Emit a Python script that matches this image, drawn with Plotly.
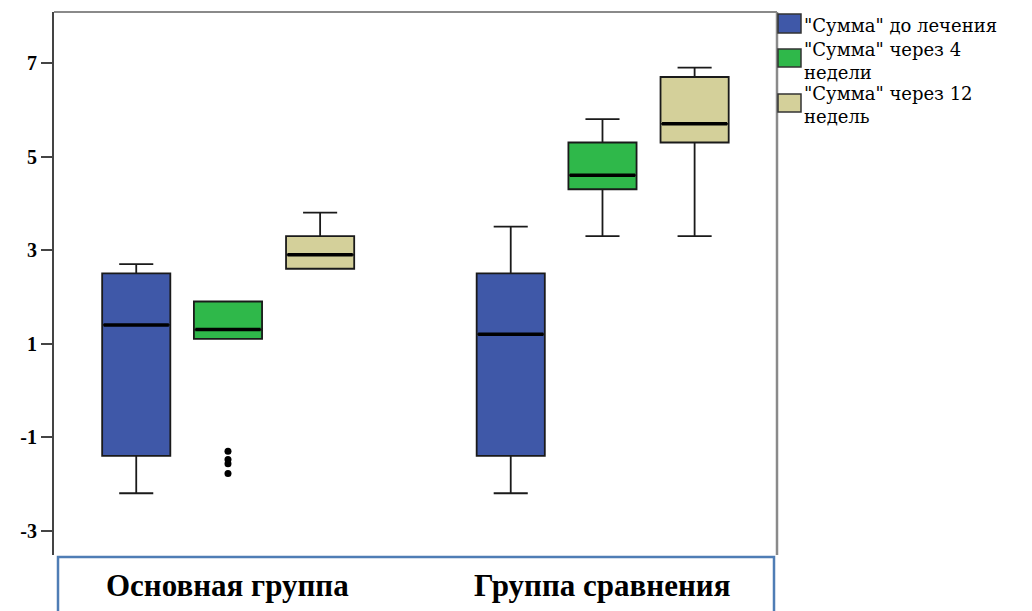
import plotly.graph_objects as go

# ---- data ----
groups = ["Основная группа", "Группа сравнения"]
series = ['"Сумма" до лечения',
          '"Сумма" через 4<br>недели',
          '"Сумма" через 12<br>недель']
colors = ["#3f58a8", "#2fb84a", "#d4d09a"]

q1 = [[-1.4, -1.4], [1.1, 4.3], [2.6, 5.3]]
median = [[1.4, 1.2], [1.3, 4.6], [2.9, 5.7]]
q3 = [[2.5, 2.5], [1.9, 5.3], [3.3, 6.7]]
lowerfence = [[-2.2, -2.2], [1.1, 3.3], [2.6, 3.3]]
upperfence = [[2.7, 3.5], [1.9, 5.8], [3.8, 6.9]]

# outliers of series 1 ("через 4 недели") in group 0
outlier_series = 1
outlier_group = 0
outlier_values = [-1.30, -1.48, -1.57, -1.78]

yticks = [-3, -1, 1, 3, 5, 7]
yticktext = ["-3", "-1", "1", "3", "5", "7"]

# ---- layout constants ----
W, H = 1032, 611
L, R, T, B = 54, 255, 12, 56
offsets = [-0.245, 0.0, 0.246]
box_w = 0.182

fig = go.Figure()
for s in range(3):
    xs = [g + offsets[s] for g in range(len(groups))]
    fig.add_trace(go.Box(
        x=xs, q1=q1[s], median=median[s], q3=q3[s],
        lowerfence=lowerfence[s], upperfence=upperfence[s],
        width=box_w, whiskerwidth=0.5,
        fillcolor=colors[s], line=dict(color="#1a1a1a", width=1.8),
        boxpoints=False, showlegend=False, hoverinfo="skip",
    ))
    for gi, x in enumerate(xs):
        fig.add_trace(go.Scatter(
            x=[x - box_w / 2 + 0.004, x + box_w / 2 - 0.004],
            y=[median[s][gi], median[s][gi]],
            mode="lines", line=dict(color="black", width=3.5),
            showlegend=False, hoverinfo="skip",
        ))

fig.add_trace(go.Scatter(
    x=[outlier_group + offsets[outlier_series]] * len(outlier_values),
    y=outlier_values, mode="markers",
    marker=dict(color="black", size=7, symbol="circle"),
    showlegend=False, hoverinfo="skip",
))

pw = W - L - R
ph = H - T - B

def px_x(p):
    return (p - L) / pw

def px_y(p):
    return (H - B - p) / ph

shapes = []
shapes.append(dict(type="line", xref="paper", yref="paper", x0=0, x1=1, y0=1, y1=1,
                   line=dict(color="#8a8a8a", width=2)))
shapes.append(dict(type="line", xref="paper", yref="paper", x0=1, x1=1, y0=0, y1=1,
                   line=dict(color="#8a8a8a", width=2.5)))
shapes.append(dict(type="rect", xref="paper", yref="paper",
                   x0=px_x(58), x1=px_x(774), y0=px_y(557), y1=px_y(640),
                   line=dict(color="#4f7db5", width=2.5), fillcolor="rgba(0,0,0,0)"))

annotations = []
for gi, g in enumerate(groups):
    annotations.append(dict(x=gi, xref="x", y=px_y(585), yref="paper", text=g,
                            showarrow=False, xanchor="center", yanchor="middle",
                            font=dict(family="Liberation Serif", size=31, color="black",
                                      weight="bold")))

# manual legend
leg_boxes = [(14, 33), (49, 67), (94, 112)]
leg_text_top = [14, 38, 82]
for s in range(3):
    y0, y1 = leg_boxes[s]
    shapes.append(dict(type="rect", xref="paper", yref="paper",
                       x0=px_x(778), x1=px_x(801), y0=px_y(y1), y1=px_y(y0),
                       line=dict(color="#333333", width=1.5), fillcolor=colors[s]))
    annotations.append(dict(x=px_x(803), xref="paper", y=px_y(leg_text_top[s]), yref="paper",
                            text=series[s], showarrow=False, xanchor="left", yanchor="top",
                            align="left", borderpad=0,
                            font=dict(family="DejaVu Serif", size=18, color="black")))

fig.update_layout(
    width=W, height=H,
    margin=dict(l=L, r=R, t=T, b=B),
    paper_bgcolor="white", plot_bgcolor="white",
    showlegend=False,
    shapes=shapes, annotations=annotations,
    xaxis=dict(range=[-0.4646, 1.466], showticklabels=False, showgrid=False,
               zeroline=False, showline=False, ticks=""),
    yaxis=dict(range=[-3.52, 8.09], tickvals=yticks, ticktext=yticktext,
               showgrid=False, zeroline=False,
               showline=True, linecolor="#444444", linewidth=2,
               ticks="outside", ticklen=11, tickwidth=1.5, tickcolor="#444444",
               tickfont=dict(family="Liberation Serif", size=20, color="black",
                             weight="bold")),
)

fig.write_html("out.html", config={"displayModeBar": False},
               post_script="document.body.style.margin='0';")
